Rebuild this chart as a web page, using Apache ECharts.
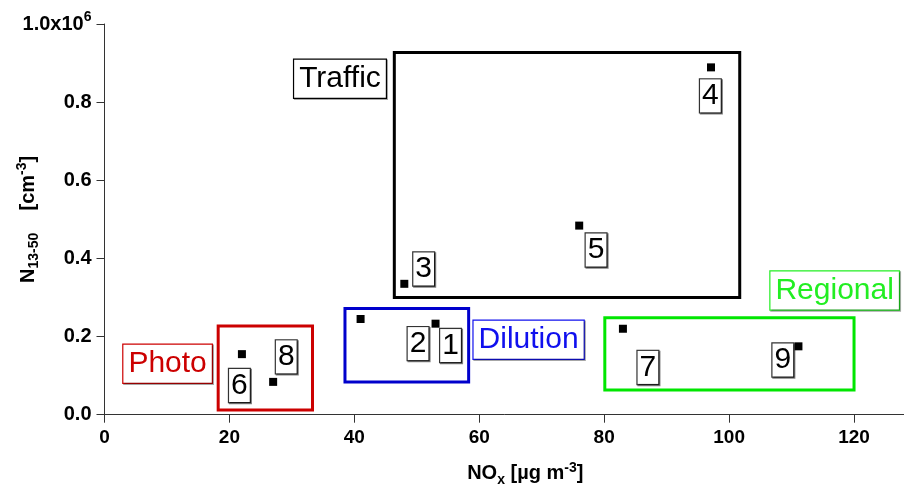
<!DOCTYPE html>
<html><head><meta charset="utf-8">
<script src="https://cdn.jsdelivr.net/npm/echarts@6/dist/echarts.min.js"></script>
<style>html,body{margin:0;padding:0;background:#fff}#c{width:904px;height:488px}</style>
</head><body><div id="c"></div>
<script>
// ---- data ----
const pointIds = ['1','2','3','4','5','6','7','8','9'];
const noxValues = [53.0, 41.0, 48.0, 97.1, 76.0, 22.0, 83.0, 27.0, 111.1];
const nValues = [233000, 245000, 335000, 889000, 484000, 155000, 220000, 84000, 175000];
// label anchor positions (data coords) for point numbers
const idLabelX = [55.4, 50.2, 51.1, 97.0, 78.7, 21.6, 87.0, 29.1, 108.6];
const idLabelY = [177000, 182000, 373000, 816000, 421500, 74700, 121000, 148000, 140000];
// group boxes
const groupNames = ['Traffic', 'Photo', 'Dilution', 'Regional'];
const groupXMin = [46.4, 18.2, 38.5, 80.1];
const groupXMax = [101.7, 33.3, 58.3, 120.0];
const groupYMin = [300000, 12000, 84000, 63000];
const groupYMax = [927000, 227000, 272000, 248000];
const groupLabelX = [37.7, 10.1, 67.9, 116.9];
const groupLabelY = [860000, 130500, 192000, 318000];
const yTicks = [0, 200000, 400000, 600000, 800000, 1000000];
const xTicks = [0, 20, 40, 60, 80, 100, 120];

const groupColors = ['#000000', '#cc0000', '#0000cc', '#00e600'];
const groupTextColors = ['#000000', '#cc0000', '#1010ee', '#22ee22'];
const FONT = 'Liberation Sans, Arial, Helvetica, sans-serif';

const chart = echarts.init(document.getElementById('c'), null, {renderer: 'canvas'});

const markAreaData = groupNames.map((n, i) => [
  {xAxis: groupXMin[i], yAxis: groupYMin[i], itemStyle: {color: 'rgba(0,0,0,0)', borderColor: groupColors[i], borderWidth: 3, opacity: 1}},
  {xAxis: groupXMax[i], yAxis: groupYMax[i]}
]);

const option = {
  animation: false,
  grid: {left: 104.5, right: 0, top: 24, bottom: 73.3, containLabel: false, outerBoundsMode: 'none'},
  xAxis: {
    type: 'value', min: 0, max: 128, interval: 20,
    splitLine: {show: false},
    axisLine: {onZero: false, lineStyle: {color: '#333', width: 1}},
    axisTick: {length: 8, lineStyle: {color: '#333'}},
    axisLabel: {
      showMaxLabel: false, margin: 14,
      color: '#000', fontFamily: FONT, fontWeight: 'bold', fontSize: 19,
      formatter: v => (xTicks.indexOf(v) >= 0 ? String(v) : '')
    },
    name: '{b|NO}{sub|x}{b| [µg m}{sup|-3}{b|]}',
    nameLocation: 'middle', nameGap: 46, nameMoveOverlap: false,
    nameTextStyle: {
      padding: [0, 0, 0, 42],
      rich: {
        b: {fontFamily: FONT, fontWeight: 'bold', fontSize: 20, color: '#000'},
        sub: {fontFamily: FONT, fontWeight: 'bold', fontSize: 14, color: '#000', padding: [12, 0, 0, 0]},
        sup: {fontFamily: FONT, fontWeight: 'bold', fontSize: 14, color: '#000', padding: [0, 0, 12, 0]}
      }
    }
  },
  yAxis: {
    type: 'value', min: 0, max: 1000000, interval: 200000,
    splitLine: {show: false},
    axisLine: {show: true, lineStyle: {color: '#333', width: 1}},
    axisTick: {show: true, length: 8, lineStyle: {color: '#333'}},
    axisLabel: {
      margin: 13, color: '#000',
      fontFamily: FONT, fontWeight: 'bold', fontSize: 20,
      formatter: v => (v === 1000000 ? '{b|1.0x10}{sup|6}' : '{b|' + (v / 1e6).toFixed(1) + '}'),
      rich: {
        b: {fontFamily: FONT, fontWeight: 'bold', fontSize: 20, color: '#000'},
        sup: {fontFamily: FONT, fontWeight: 'bold', fontSize: 14, color: '#000', padding: [0, 0, 14, 0]}
      }
    },
    name: '{b|N}{sub|13-50}{b|    [cm}{sup|-3}{b|]}',
    nameLocation: 'middle', nameGap: 63, nameRotate: 90, nameMoveOverlap: false,
    nameTextStyle: {
      rich: {
        b: {fontFamily: FONT, fontWeight: 'bold', fontSize: 20, color: '#000'},
        sub: {fontFamily: FONT, fontWeight: 'bold', fontSize: 14, color: '#000', padding: [12, 0, 0, 0]},
        sup: {fontFamily: FONT, fontWeight: 'bold', fontSize: 14, color: '#000', padding: [0, 0, 12, 0]}
      }
    }
  },
  series: [
    {
      type: 'scatter', name: 'points',
      symbol: 'rect', symbolSize: 8,
      itemStyle: {color: '#000', opacity: 1},
      data: noxValues.map((x, i) => [x, nValues[i]]),
      markArea: {silent: true, data: markAreaData, label: {show: false}},
      z: 5
    },
    {
      type: 'scatter', name: 'ids',
      symbolSize: 0, silent: true,
      itemStyle: {opacity: 1},
      data: pointIds.map((id, i) => ({value: [idLabelX[i], idLabelY[i]], name: id})),
      label: {
        show: true, position: 'inside', formatter: p => p.name,
        fontFamily: FONT, fontSize: 30, color: '#000', lineHeight: 32,
        padding: [1, 2, 0, 2], backgroundColor: '#fff',
        borderColor: '#333', borderWidth: 1.2,
        shadowColor: 'rgba(0,0,0,0.5)', shadowOffsetX: 1, shadowOffsetY: 1
      },
      z: 6
    },
    {
      type: 'scatter', name: 'groups',
      symbolSize: 0, silent: true,
      itemStyle: {opacity: 1},
      data: groupNames.map((n, i) => ({
        value: [groupLabelX[i], groupLabelY[i]], name: n,
        label: {color: groupTextColors[i], borderColor: groupTextColors[i]}
      })),
      label: {
        show: true, position: 'inside', formatter: p => p.name,
        fontFamily: FONT, fontSize: 30, lineHeight: 34,
        padding: [3, 5, 1, 5], backgroundColor: '#fff',
        borderWidth: 1.2,
        shadowColor: 'rgba(0,0,0,0.35)', shadowOffsetX: 1, shadowOffsetY: 1
      },
      z: 6
    }
  ]
};
chart.setOption(option);
</script></body></html>
